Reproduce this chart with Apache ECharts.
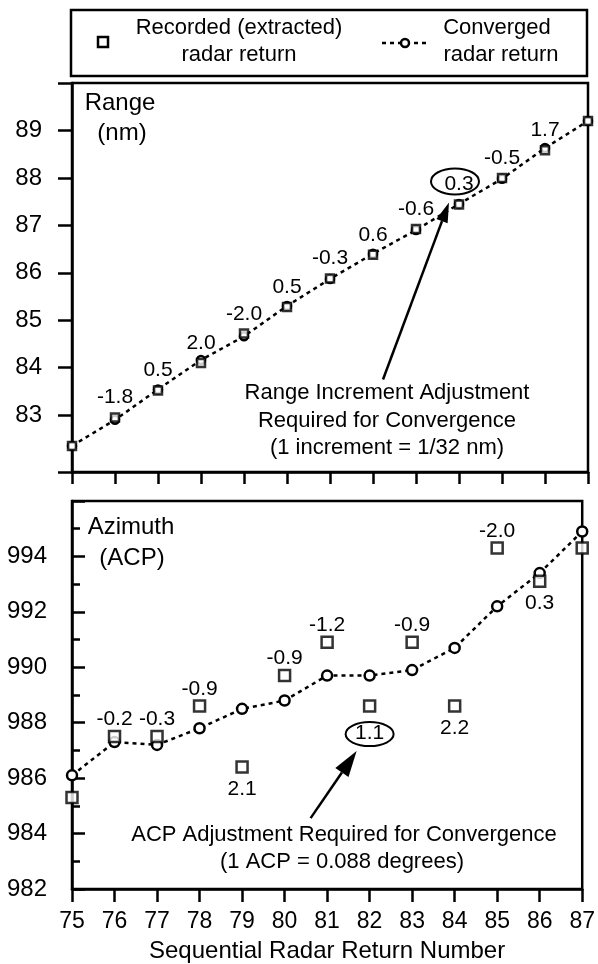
<!DOCTYPE html>
<html>
<head>
<meta charset="utf-8">
<script src="https://cdn.jsdelivr.net/npm/echarts@6/dist/echarts.min.js"></script>
<style>
  html, body { margin: 0; padding: 0; background: #fff; }
  #chart { width: 598px; height: 964px; }
</style>
</head>
<body>
<div id="chart"></div>
<script>
// Sequential radar returns and their recorded / converged positions
const returnNumbers = [75, 76, 77, 78, 79, 80, 81, 82, 83, 84, 85, 86, 87];

// Range (nm)
const rangeRecorded  = [82.35, 82.95, 83.52, 84.10, 84.72, 85.28, 85.88, 86.38, 86.92, 87.44, 88.00, 88.58, 89.20];
const rangeConverged = [82.35, 82.90, 83.54, 84.16, 84.66, 85.30, 85.87, 86.40, 86.90, 87.45, 87.98, 88.63, 89.20];
const rangeAdjust    = [null, -1.8, 0.5, 2.0, -2.0, 0.5, -0.3, 0.6, -0.6, 0.3, -0.5, 1.7, null];
const rangeTickLabels = [83, 84, 85, 86, 87, 88, 89];
const rangeTickMarks  = [81.8, 83, 84, 85, 86, 87, 88, 89, 90];

// Azimuth (ACP)
const azimuthRecorded  = [985.3, 987.5, 987.5, 988.6, 986.4, 989.7, 990.9, 988.6, 990.9, 988.6, 994.3, 993.1, 994.3];
const azimuthConverged = [986.1, 987.3, 987.2, 987.8, 988.5, 988.8, 989.7, 989.7, 989.9, 990.7, 992.2, 993.4, 994.9];
const azimuthAdjust    = [null, -0.2, -0.3, -0.9, 2.1, -0.9, -1.2, 1.1, -0.9, 2.2, -2.0, 0.3, null];

// Returns whose adjustment is called out
const rangeCallout = 84;
const azimuthCallout = 82;

const FONT = 'Liberation Sans';
const INK = '#000';

const chart = echarts.init(document.getElementById('chart'), null, { renderer: 'canvas' });

function pairs(ys) { return returnNumbers.map((x, i) => [x, ys[i]]); }

const labelText = { color: INK, fontSize: 21, fontFamily: FONT, textBorderWidth: 0, opacity: 1 };

const rangePoints = returnNumbers.map((x, i) => ({
  value: [x, rangeRecorded[i]],
  label: Object.assign({}, labelText, {
    show: rangeAdjust[i] !== null,
    position: 'top',
    distance: 4,
    formatter: () => rangeAdjust[i] === null ? '' : rangeAdjust[i].toFixed(1)
  })
}));

const azimuthPoints = returnNumbers.map((x, i) => {
  const a = azimuthAdjust[i];
  const above = a !== null && a < 0;
  return {
    value: [x, azimuthRecorded[i]],
    label: Object.assign({}, labelText, {
      show: a !== null,
      position: above ? 'top' : 'bottom',
      distance: above ? 0 : (x === azimuthCallout ? 10 : 5),
      formatter: () => a === null ? '' : a.toFixed(1)
    })
  };
});

const axisLine = { show: true, lineStyle: { color: INK, width: 2.5 } };
const markStyle = { color: '#fff', borderColor: INK, borderWidth: 2.5 };

const option = {
  animation: false,
  backgroundColor: '#fff',
  textStyle: { fontFamily: FONT, color: INK },
  grid: [
    { left: 72, top: 83, width: 516, height: 389, show: true, borderColor: INK, borderWidth: 2.5, backgroundColor: 'transparent' },
    { left: 72, top: 501, width: 516, height: 390, show: true, borderColor: INK, borderWidth: 2.5, backgroundColor: 'transparent' }
  ],
  xAxis: [
    {
      type: 'value', gridIndex: 0, min: 75, max: 87, interval: 1,
      axisLine: axisLine,
      axisTick: { show: true, inside: false, length: 12, lineStyle: { color: INK, width: 2.5 } },
      axisLabel: { show: false },
      splitLine: { show: false }
    },
    {
      type: 'value', gridIndex: 1, min: 75, max: 87, interval: 1,
      axisLine: axisLine,
      axisTick: { show: true, inside: false, length: 13, lineStyle: { color: INK, width: 2.5 } },
      axisLabel: { show: true, fontSize: 23, margin: 21, color: INK, fontFamily: FONT },
      splitLine: { show: false },
      name: 'Sequential Radar Return Number',
      nameLocation: 'middle',
      nameGap: 50,
      nameTextStyle: { fontSize: 24, color: INK, fontFamily: FONT }
    }
  ],
  yAxis: [
    {
      type: 'value', gridIndex: 0, min: 81.8, max: 90,
      axisLine: axisLine,
      axisTick: { show: true, inside: false, length: 14, customValues: rangeTickMarks, lineStyle: { color: INK, width: 2.5 } },
      axisLabel: { show: true, customValues: rangeTickLabels, fontSize: 24, margin: 30, color: INK, fontFamily: FONT },
      splitLine: { show: false }
    },
    {
      type: 'value', gridIndex: 1, min: 982, max: 996, interval: 2,
      axisLine: axisLine,
      axisTick: { show: true, inside: true, length: 13, lineStyle: { color: INK, width: 2.5 } },
      minorTick: { show: true, splitNumber: 2, length: 8, lineStyle: { color: INK, width: 2.5 } },
      axisLabel: { show: true, showMaxLabel: false, fontSize: 24, margin: 25, color: INK, fontFamily: FONT },
      splitLine: { show: false }
    }
  ],
  series: [
    {
      name: 'Converged radar return', type: 'line', xAxisIndex: 0, yAxisIndex: 0,
      data: pairs(rangeConverged),
      symbol: 'circle', symbolSize: 8, showAllSymbol: true,
      lineStyle: { color: INK, width: 2.5, type: [4, 4] },
      itemStyle: markStyle,
      z: 2
    },
    {
      name: 'Recorded (extracted) radar return', type: 'scatter', xAxisIndex: 0, yAxisIndex: 0,
      data: rangePoints,
      symbol: 'rect', symbolSize: 8,
      itemStyle: markStyle,
      label: labelText,
      z: 3
    },
    {
      name: 'Converged radar return', type: 'line', xAxisIndex: 1, yAxisIndex: 1,
      data: pairs(azimuthConverged),
      symbol: 'circle', symbolSize: 10, showAllSymbol: true,
      lineStyle: { color: INK, width: 2.5, type: [4, 4] },
      itemStyle: markStyle,
      z: 2
    },
    {
      name: 'Recorded (extracted) radar return', type: 'scatter', xAxisIndex: 1, yAxisIndex: 1,
      data: azimuthPoints,
      symbol: 'rect', symbolSize: 11,
      itemStyle: markStyle,
      label: labelText,
      z: 3
    }
  ]
};

chart.setOption(option);

// Arrow made of a shaft and a filled head
function arrow(tail, tip, headLen, headW) {
  const dx = tip[0] - tail[0], dy = tip[1] - tail[1];
  const len = Math.hypot(dx, dy);
  const ux = dx / len, uy = dy / len;
  const bx = tip[0] - ux * headLen, by = tip[1] - uy * headLen;
  const px = -uy, py = ux;
  return [
    { type: 'line', shape: { x1: tail[0], y1: tail[1], x2: bx, y2: by }, style: { stroke: INK, lineWidth: 2.5 } },
    { type: 'polygon', shape: { points: [[tip[0], tip[1]], [bx + px * headW / 2, by + py * headW / 2], [bx - px * headW / 2, by - py * headW / 2]] }, style: { fill: INK } }
  ];
}

function text(x, y, str, size, align) {
  return { type: 'text', x: x, y: y, style: { text: str, fill: INK, font: size + 'px "' + FONT + '"', textAlign: align || 'center', textVerticalAlign: 'middle' } };
}

const ri = returnNumbers.indexOf(rangeCallout);
const ai = returnNumbers.indexOf(azimuthCallout);
const pR = chart.convertToPixel({ gridIndex: 0 }, [rangeCallout, rangeRecorded[ri]]);
const pA = chart.convertToPixel({ gridIndex: 1 }, [azimuthCallout, azimuthRecorded[ai]]);

const graphics = [
  // legend box
  { type: 'rect', shape: { x: 71, y: 10, width: 516, height: 66 }, style: { fill: 'none', stroke: INK, lineWidth: 2.5 } },
  { type: 'rect', shape: { x: 98, y: 37, width: 10, height: 10 }, style: { fill: '#fff', stroke: INK, lineWidth: 2.5 } },
  text(239, 28, 'Recorded (extracted)', 22),
  text(239, 55, 'radar return', 22),
  { type: 'line', shape: { x1: 382, y1: 43, x2: 428, y2: 43 }, style: { stroke: INK, lineWidth: 2.5, lineDash: [4, 4] } },
  { type: 'circle', shape: { cx: 405, cy: 43, r: 4 }, style: { fill: '#fff', stroke: INK, lineWidth: 2.5 } },
  text(497, 28, 'Converged', 22),
  text(501, 55, 'radar return', 22),

  // panel titles
  text(120, 103, 'Range', 24),
  text(122, 133, '(nm)', 24),
  text(131, 527, 'Azimuth', 24),
  text(132, 558, '(ACP)', 24),

  // range call-out
  { type: 'ellipse', shape: { cx: pR[0] - 4, cy: pR[1] - 23, rx: 24, ry: 13 }, style: { fill: 'none', stroke: INK, lineWidth: 2 } },
  ...arrow([pR[0] - 76, pR[1] + 175], [pR[0] - 10, pR[1] - 2], 20, 12),
  text(387, 393, 'Range Increment Adjustment', 22),
  text(387, 421, 'Required for Convergence', 22),
  text(387, 448, '(1 increment = 1/32 nm)', 22),

  // azimuth call-out
  { type: 'ellipse', shape: { cx: pA[0], cy: pA[1] + 28, rx: 24, ry: 12 }, style: { fill: 'none', stroke: INK, lineWidth: 2 } },
  ...arrow([pA[0] - 59, pA[1] + 112], [pA[0] - 13, pA[1] + 45], 26, 16),
  text(344, 835, 'ACP Adjustment Required for Convergence', 22),
  text(342, 862, '(1 ACP = 0.088 degrees)', 22)
];

chart.setOption({ graphic: graphics.map(g => Object.assign({ z: 100 }, g)) });
</script>
</body>
</html>
